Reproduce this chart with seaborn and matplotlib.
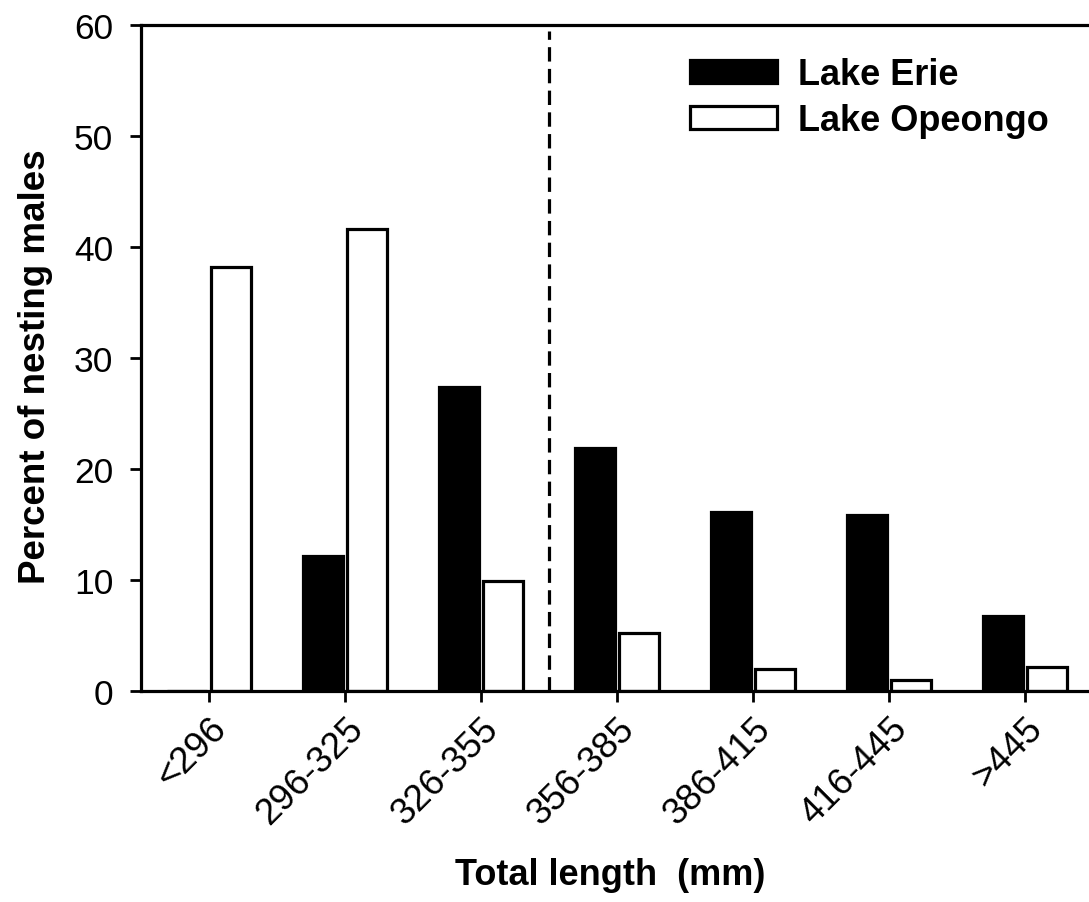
import matplotlib
matplotlib.use("Agg")
import matplotlib.pyplot as plt
import seaborn as sns
import pandas as pd

categories = ["<296", "296-325", "326-355", "356-385", "386-415", "416-445", ">445"]
erie = [0.0, 12.2, 27.4, 21.9, 16.1, 15.9, 6.8]
opeongo = [38.2, 41.6, 9.9, 5.2, 2.0, 1.0, 2.2]
series_names = ["Lake Erie", "Lake Opeongo"]

df = pd.DataFrame({
    "cat": categories * 2,
    "val": erie + opeongo,
    "lake": [series_names[0]] * len(categories) + [series_names[1]] * len(categories),
})

sns.set_style("white")
plt.rcParams["font.family"] = ["Liberation Sans", "DejaVu Sans"]
plt.rcParams["text.color"] = "black"
plt.rcParams["axes.labelcolor"] = "black"
plt.rcParams["xtick.color"] = "black"
plt.rcParams["ytick.color"] = "black"

fig = plt.figure(figsize=(10.89, 9.03), dpi=100)
ax = fig.add_axes([141 / 1089, 1 - 692 / 903, 1 - 141 / 1089, (692 - 26) / 903])

sns.barplot(data=df, x="cat", y="val", hue="lake", order=categories,
            hue_order=series_names, palette=["black", "white"], saturation=1,
            edgecolor="black", linewidth=2.3, width=0.65, gap=0.1, ax=ax,
            errorbar=None)

ax.set_xlim(-0.5, 6.47)
ax.set_ylim(0, 60)
ax.set_yticks(range(0, 61, 10))

ax.axvline(2.5, ymin=0, ymax=59.5 / 60, color="black", lw=2.3,
           linestyle=(0, (4.5, 2.3)))

for s in ["left", "bottom", "top"]:
    ax.spines[s].set_visible(True)
    ax.spines[s].set_linewidth(2.3)
    ax.spines[s].set_color("black")
ax.spines["right"].set_visible(False)

ax.tick_params(axis="both", direction="out", length=8, width=2.0, color="black",
               labelsize=25.5, labelcolor="black", bottom=True, left=True)
ax.tick_params(axis="x", labelsize=26.5, pad=6)
ax.tick_params(axis="y", pad=12)
plt.setp(ax.get_xticklabels(), rotation=45, ha="right", rotation_mode="anchor")

ax.set_xlabel("Total length  (mm)", fontsize=26, fontweight="bold")
ax.xaxis.set_label_coords(0.495, -0.25)
ax.set_ylabel("Percent of nesting males", fontsize=26.5, fontweight="bold")
ax.yaxis.set_label_coords(-0.093, 0.488)

handles, labels = ax.get_legend_handles_labels()
leg = ax.legend(handles, labels, loc="upper left", bbox_to_anchor=(0.545, 1.0),
                frameon=False, prop={"weight": "bold", "size": 26},
                handlelength=2.4, handleheight=0.6, handletextpad=0.6,
                labelspacing=0.3)
for h in leg.legend_handles:
    h.set_edgecolor("black")
    h.set_linewidth(2.3)

fig.savefig("out.png", dpi=100)
